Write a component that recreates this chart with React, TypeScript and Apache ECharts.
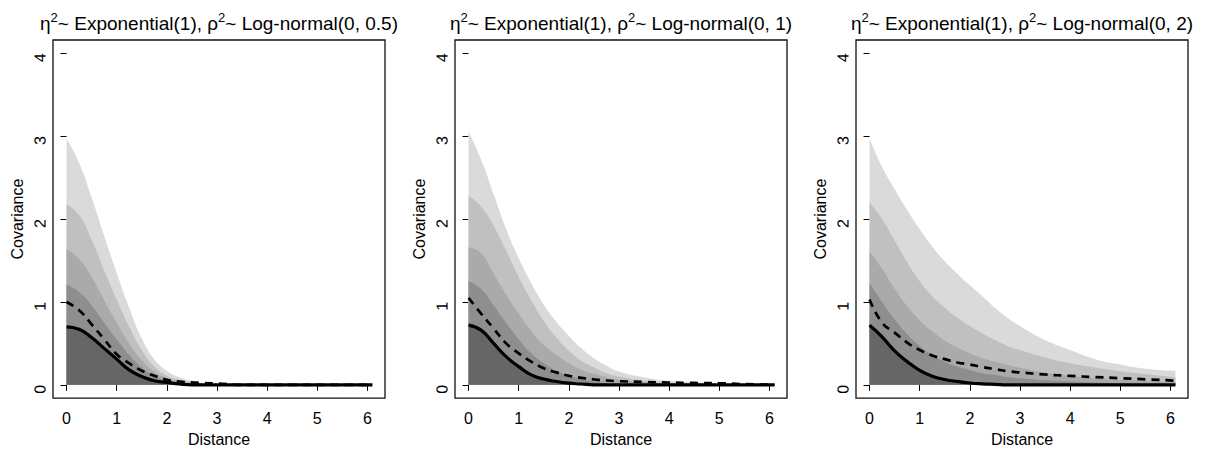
import React, { useEffect, useRef } from "react";
import * as echarts from "echarts";

// x positions (Distance) at which the curves were read
const distance = [0, 0.25, 0.5, 0.75, 1, 1.25, 1.5, 1.75, 2, 2.25, 2.5, 2.75, 3, 3.5, 4, 4.5, 5, 5.5, 6.1];
const xTicks = [0, 1, 2, 3, 4, 5, 6];
const yTicks = [0, 1, 2, 3, 4];
const rhoSd = ["0.5", "1", "2"];

// Panel 1: rho^2 ~ Log-normal(0, 0.5)
const p1_q95 = [2.97, 2.68, 2.26, 1.80, 1.35, 0.93, 0.56, 0.31, 0.17, 0.09, 0.05, 0.02, 0.01, 0, 0, 0, 0, 0, 0];
const p1_q89 = [2.18, 2.05, 1.75, 1.38, 1.03, 0.70, 0.42, 0.22, 0.11, 0.06, 0.03, 0.01, 0, 0, 0, 0, 0, 0, 0];
const p1_q80 = [1.64, 1.52, 1.30, 1.02, 0.75, 0.50, 0.30, 0.16, 0.08, 0.04, 0.02, 0.01, 0, 0, 0, 0, 0, 0, 0];
const p1_q70 = [1.21, 1.12, 0.96, 0.75, 0.55, 0.36, 0.21, 0.11, 0.05, 0.02, 0.01, 0, 0, 0, 0, 0, 0, 0, 0];
const p1_median = [0.70, 0.67, 0.57, 0.44, 0.31, 0.18, 0.10, 0.05, 0.03, 0.01, 0, 0, 0, 0, 0, 0, 0, 0, 0];
const p1_mean = [1.00, 0.90, 0.73, 0.55, 0.37, 0.26, 0.17, 0.11, 0.06, 0.04, 0.03, 0.02, 0.015, 0, 0, 0, 0, 0, 0];

// Panel 2: rho^2 ~ Log-normal(0, 1)
const p2_q95 = [3.06, 2.72, 2.30, 1.88, 1.53, 1.23, 0.97, 0.76, 0.59, 0.44, 0.32, 0.23, 0.16, 0.09, 0.05, 0.03, 0.015, 0.005, 0];
const p2_q89 = [2.28, 2.15, 1.92, 1.62, 1.30, 1.02, 0.77, 0.57, 0.41, 0.29, 0.21, 0.14, 0.10, 0.05, 0.025, 0.01, 0.005, 0, 0];
const p2_q80 = [1.66, 1.59, 1.34, 1.09, 0.86, 0.65, 0.48, 0.36, 0.26, 0.18, 0.13, 0.09, 0.06, 0.03, 0.01, 0, 0, 0, 0];
const p2_q70 = [1.25, 1.16, 0.96, 0.75, 0.55, 0.38, 0.26, 0.17, 0.11, 0.07, 0.04, 0.02, 0.01, 0, 0, 0, 0, 0, 0];
const p2_median = [0.72, 0.66, 0.50, 0.34, 0.22, 0.12, 0.07, 0.04, 0.02, 0.01, 0, 0, 0, 0, 0, 0, 0, 0, 0];
const p2_mean = [1.05, 0.86, 0.68, 0.50, 0.38, 0.28, 0.20, 0.15, 0.11, 0.085, 0.065, 0.052, 0.044, 0.035, 0.028, 0.023, 0.019, 0.008, 0];

// Panel 3: rho^2 ~ Log-normal(0, 2)
const p3_q95 = [2.97, 2.63, 2.36, 2.11, 1.88, 1.67, 1.49, 1.34, 1.20, 1.07, 0.93, 0.81, 0.71, 0.54, 0.42, 0.31, 0.245, 0.195, 0.17];
const p3_q89 = [2.20, 2.00, 1.74, 1.48, 1.25, 1.07, 0.93, 0.81, 0.71, 0.62, 0.54, 0.47, 0.42, 0.33, 0.26, 0.21, 0.165, 0.13, 0.09];
const p3_q80 = [1.61, 1.40, 1.16, 0.95, 0.78, 0.645, 0.535, 0.45, 0.38, 0.32, 0.28, 0.24, 0.205, 0.15, 0.11, 0.08, 0.06, 0.045, 0.03];
const p3_q70 = [1.23, 1.00, 0.79, 0.61, 0.47, 0.36, 0.28, 0.22, 0.18, 0.14, 0.12, 0.095, 0.078, 0.055, 0.04, 0.027, 0.018, 0.012, 0.008];
const p3_median = [0.72, 0.58, 0.41, 0.28, 0.175, 0.105, 0.065, 0.04, 0.022, 0.012, 0.006, 0, 0, 0, 0, 0, 0, 0, 0];
const p3_mean = [1.03, 0.75, 0.63, 0.51, 0.42, 0.355, 0.31, 0.27, 0.245, 0.215, 0.19, 0.165, 0.15, 0.125, 0.108, 0.094, 0.08, 0.067, 0.05];

const panels = [
  { sd: rhoSd[0], bands: [p1_q95, p1_q89, p1_q80, p1_q70, p1_median], mean: p1_mean, median: p1_median },
  { sd: rhoSd[1], bands: [p2_q95, p2_q89, p2_q80, p2_q70, p2_median], mean: p2_mean, median: p2_median },
  { sd: rhoSd[2], bands: [p3_q95, p3_q89, p3_q80, p3_q70, p3_median], mean: p3_mean, median: p3_median },
];

const bandColors = ["#dadada", "#c0c0c0", "#aaaaaa", "#8e8e8e", "#666666"];
const FONT = "'Liberation Sans', Arial, Helvetica, sans-serif";
const gridLefts = [53, 455, 856];
const GRID_W = 332;
const SMOOTH = 0.5;

const pairs = (ys: number[]) => distance.map((x, i) => [x, ys[i]]);

export default function App() {
  const ref = useRef<HTMLDivElement>(null);
  useEffect(() => {
    if (!ref.current) return;
    const chart = echarts.init(ref.current, undefined, { renderer: "svg" });

    const grid = gridLefts.map((left) => ({
      left,
      top: 40,
      width: GRID_W,
      height: 361,
      show: true,
      borderColor: "#111",
      borderWidth: 1.3,
      backgroundColor: "transparent",
    }));

    const xAxis = gridLefts.map((_, i) => ({
      type: "value",
      gridIndex: i,
      min: -0.27,
      max: 6.35,
      name: "Distance",
      nameLocation: "middle",
      nameGap: 31,
      nameTextStyle: { color: "#000", fontSize: 16, fontFamily: FONT },
      axisLine: { show: false },
      splitLine: { show: false },
      axisTick: { show: true, inside: false, length: 6, customValues: xTicks, lineStyle: { color: "#000", width: 1 } },
      axisLabel: { customValues: xTicks, margin: 12, color: "#000", fontSize: 16, fontFamily: FONT },
    }));

    const yAxis = gridLefts.map((_, i) => ({
      type: "value",
      gridIndex: i,
      min: -0.16,
      max: 4.16,
      name: "Covariance",
      nameLocation: "middle",
      nameGap: 28,
      nameTextStyle: { color: "#000", fontSize: 16, fontFamily: FONT },
      axisLine: { show: false },
      splitLine: { show: false },
      axisTick: { show: true, inside: false, length: 6, customValues: yTicks, lineStyle: { color: "#000", width: 1 } },
      axisLabel: { customValues: yTicks, rotate: 89.9, margin: 13, color: "#000", fontSize: 16, fontFamily: FONT },
    }));

    const series: any[] = [];
    panels.forEach((p, i) => {
      p.bands.forEach((b, k) => {
        series.push({
          type: "line",
          xAxisIndex: i,
          yAxisIndex: i,
          data: pairs(b),
          showSymbol: false,
          symbol: "none",
          smooth: SMOOTH,
          lineStyle: { width: 0 },
          areaStyle: { color: bandColors[k], opacity: 1 },
          silent: true,
          z: 2 + k,
        });
      });
      series.push({
        type: "line",
        xAxisIndex: i,
        yAxisIndex: i,
        data: pairs(p.mean),
        showSymbol: false,
        symbol: "none",
        smooth: SMOOTH,
        lineStyle: { color: "#000", width: 2.7, type: [8, 6], cap: "butt" },
        silent: true,
        z: 10,
      });
      series.push({
        type: "line",
        xAxisIndex: i,
        yAxisIndex: i,
        data: pairs(p.median),
        showSymbol: false,
        symbol: "none",
        smooth: SMOOTH,
        lineStyle: { color: "#000", width: 3.2 },
        silent: true,
        z: 11,
      });
    });

    const graphic = panels.map((p, i) => ({
      type: "text",
      x: gridLefts[i] + GRID_W / 2,
      y: 23,
      silent: true,
      style: {
        text: `{m|η}{s|2}{m|~ Exponential(1), ρ}{s|2}{m|~ Log-normal(0, ${p.sd})}`,
        align: "center",
        verticalAlign: "middle",
        fill: "#000",
        rich: {
          m: { fontSize: 19, fontFamily: FONT, fill: "#000" },
          s: { fontSize: 13, fontFamily: FONT, fill: "#000", padding: [0, 0, 12, 0] },
        },
      },
    }));

    chart.setOption({
      animation: false,
      backgroundColor: "#fff",
      grid,
      xAxis,
      yAxis,
      series,
      graphic,
    } as any);

    return () => chart.dispose();
  }, []);

  return (
    <div
      ref={ref}
      style={{ position: "absolute", left: 0, top: 0, width: 1208, height: 452 }}
    />
  );
}
